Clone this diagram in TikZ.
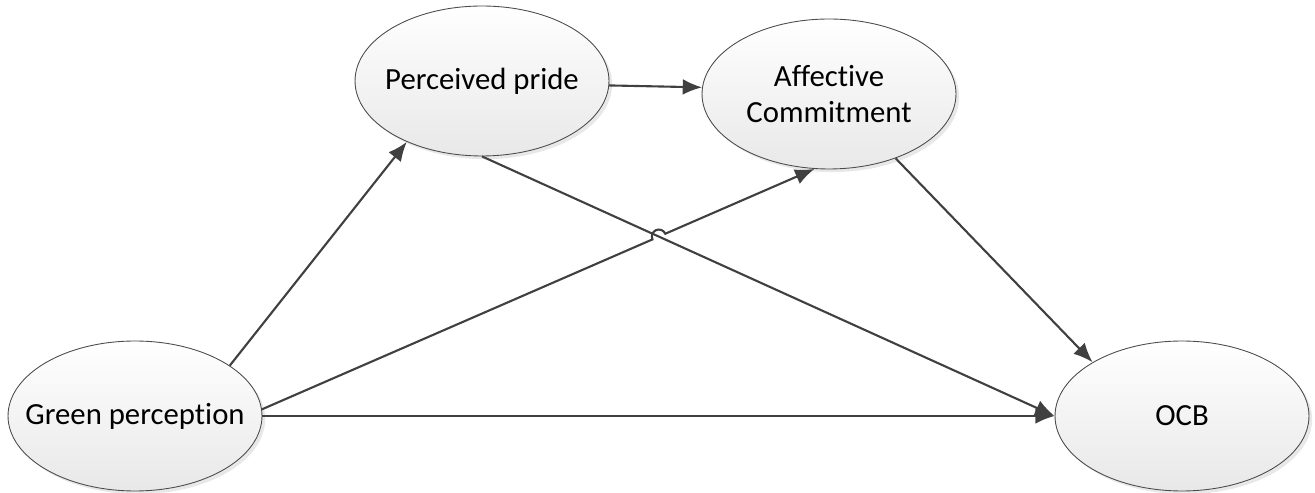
\documentclass[tikz,border=0pt]{standalone}
\usepackage{fontspec}
\setmainfont{Carlito}[Ligatures=NoCommon]
\usetikzlibrary{arrows.meta,shadows,shapes.geometric,intersections,calc}

\tikzset{
  construct/.style={ellipse, draw=black!70, line width=0.5pt,
    top color=white, bottom color=black!9,
    drop shadow={opacity=0.18, shadow xshift=1.8pt, shadow yshift=-1.8pt},
    minimum width=5.08cm, minimum height=3cm, inner xsep=-40pt, inner ysep=0pt,
    align=center, font=\fontsize{17.5}{21}\selectfont},
  link/.style={draw=black!75, line width=1.2pt,
    -{Latex[length=11pt,width=9pt]}}
}

\begin{document}
\begin{tikzpicture}[x=0.02cm, y=0.02cm]
\useasboundingbox (0,0) rectangle (1315,493);

\node[construct] (green) at (135,77) {Green perception};
\node[construct] (pride) at (482,412) {Perceived pride};
\node[construct] (aff) at (829,399) {Affective\\Commitment};
\node[construct] (ocb) at (1182,77) {OCB};

\path[name path=pride ocb] (pride.south) -- (ocb.west);
\path[name path=green aff] (green.3) -- (aff.259);
\path[name intersections={of=green aff and pride ocb, by=hop}];

\draw[link] (green.28) -- (pride.219);
\draw[link] (green.east) -- (ocb.west);
\draw[link] (pride.-2) -- (aff.177);
\draw[link] (pride.south) -- (ocb.west);
\draw[link] (aff.-44.5) -- (ocb.149.7);
% line hop over the crossing
\draw[link] (green.3) -- ($(hop)!4pt!(green.3)$)
  arc[start angle=203.8, end angle=23.8, radius=4pt] -- (aff.259);
\end{tikzpicture}
\end{document}
